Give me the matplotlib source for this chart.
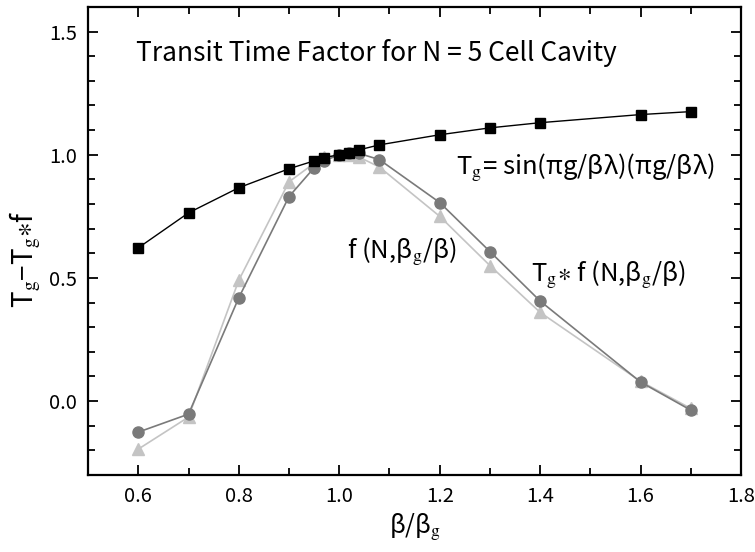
import matplotlib
matplotlib.use('Agg')
import matplotlib.pyplot as plt
from matplotlib.ticker import MultipleLocator

plt.rcParams['font.family'] = ['Noto Sans CJK JP', 'DejaVu Sans']
plt.rcParams['mathtext.fontset'] = 'stix'

# beta / beta_g
x = [0.6, 0.7, 0.8, 0.9, 0.95, 0.97, 1.0, 1.02, 1.04, 1.08, 1.2, 1.3, 1.4, 1.6, 1.7]
# T_g = sin(pi g / beta lambda) / (pi g / beta lambda)
t_g = [0.622, 0.764, 0.866, 0.943, 0.975, 0.988, 1.0, 1.008, 1.02, 1.04, 1.081, 1.109, 1.13, 1.163, 1.175]
# f(N, beta_g/beta)
f_n = [-0.195, -0.065, 0.49, 0.89, 0.965, 0.99, 1.0, 1.0, 0.99, 0.95, 0.75, 0.55, 0.36, 0.08, -0.03]
# T_g * f(N, beta_g/beta)
tf_n = [-0.126, -0.053, 0.419, 0.83, 0.947, 0.975, 1.0, 1.005, 1.005, 0.98, 0.806, 0.607, 0.406, 0.077, -0.037]

fig = plt.figure(figsize=(7.55, 5.52), dpi=100)
ax = fig.add_axes([0.1166, 0.1395, 0.865, 0.848])

ax.plot(x, f_n, color='#c4c4c4', marker='^', markersize=8, linewidth=1.2, zorder=2)
ax.plot(x, tf_n, color='#7a7a7a', marker='o', markersize=8, linewidth=1.2, zorder=3)
ax.plot(x, t_g, color='black', marker='s', markersize=7, linewidth=1.0, zorder=4)

ax.set_xlim(0.5, 1.8)
ax.set_ylim(-0.3, 1.6)
ax.xaxis.set_major_locator(MultipleLocator(0.2))
ax.xaxis.set_minor_locator(MultipleLocator(0.1))
ax.yaxis.set_major_locator(MultipleLocator(0.5))
ax.yaxis.set_minor_locator(MultipleLocator(0.1))
ax.xaxis.set_major_formatter(lambda v, p: f'{v:.1f}')
ax.yaxis.set_major_formatter(lambda v, p: f'{v:.1f}')
ax.tick_params(which='both', direction='in', top=True, right=True, width=1.3, labelsize=14.5)
ax.tick_params(which='major', length=7, pad=8)
ax.tick_params(which='minor', length=5)
for s in ax.spines.values():
    s.set_linewidth(1.6)

# axis titles placed by hand, centred where the reference has them
fig.text(0.5497, 0.0453, r'β/β$_\mathrm{g}$', fontsize=18, ha='center', va='center')
fig.text(0.0331, 0.531, r'T$_\mathrm{g}$−T$_\mathrm{g}$$\ast$f', fontsize=20,
         rotation=90, ha='center', va='center')

ax.text(0.595, 1.413, 'Transit Time Factor for N = 5 Cell Cavity', fontsize=19, va='center')
ax.text(1.233, 0.947, r'T$_\mathrm{g}$= sin(πg/βλ)(πg/βλ)', fontsize=18.5, va='center')
ax.text(1.016, 0.605, r'f (N,β$_\mathrm{g}$/β)', fontsize=18.5, va='center')
ax.text(1.382, 0.512, r'T$_\mathrm{g}$$\ast$ f (N,β$_\mathrm{g}$/β)', fontsize=18.5, va='center')

fig.savefig('out.png', dpi=100)
